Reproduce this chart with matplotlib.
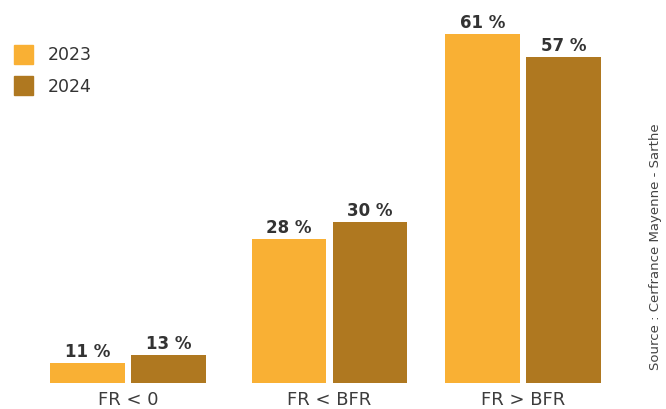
import matplotlib
matplotlib.use("Agg")
import matplotlib.pyplot as plt
import numpy as np
from matplotlib.patches import Rectangle

categories = ["FR < 0", "FR < BFR", "FR > BFR"]
series_names = ["2023", "2024"]
# bar heights (percent units)
heights_2023 = [3.5, 25.2, 61.0]
heights_2024 = [4.9, 28.1, 57.0]
# value labels printed above bars
labels_2023 = ["11 %", "28 %", "61 %"]
labels_2024 = ["13 %", "30 %", "57 %"]
source_text = "Source : Cerfrance Mayenne - Sarthe"

c2023 = "#F9B034"
c2024 = "#AF7820"
text_col = "#333333"

W, H = 666, 410
fig = plt.figure(figsize=(W / 100, H / 100), dpi=100)
fig.patch.set_facecolor("white")

# axes: x 0..640 px, baseline at y=384 px from top
ax = fig.add_axes([0, 26 / H, 640 / W, 384 / H])
px_per_unit = 197.5
x0_px = 128
ax.set_xlim(-x0_px / px_per_unit, (640 - x0_px) / px_per_unit)
ax.set_ylim(0, 384 / 5.72)
ax.axis("off")

x = np.array([0, 1.018, 2.0])
bw = 0.375
off = 0.205
ax.bar(x - off, heights_2023, bw, color=c2023, label=series_names[0])
ax.bar(x + off, heights_2024, bw, color=c2024, label=series_names[1])

pad = 7 / 5.72
for xi, h, t in zip(x - off, heights_2023, labels_2023):
    ax.text(xi, h + pad, t, ha="center", va="baseline", fontsize=12,
            fontweight="bold", color=text_col)
for xi, h, t in zip(x + off, heights_2024, labels_2024):
    ax.text(xi, h + pad, t, ha="center", va="baseline", fontsize=12,
            fontweight="bold", color=text_col)

# category labels
for xi, c in zip(x, categories):
    ax.text(xi, -21.5 / 5.72, c, ha="center", va="baseline", fontsize=13,
            color="#3c3c3c")

# legend (manual squares)
for i, (name, col) in enumerate(zip(series_names, [c2023, c2024])):
    top = 46 + i * 31
    fig.patches.append(Rectangle((14 / W, 1 - (top + 19) / H), 19 / W, 19 / H,
                                 transform=fig.transFigure, color=col))
    fig.text(48 / W, 1 - (top + 9.5) / H, name, ha="left", va="center",
             fontsize=12.5, color=text_col)

# source, rotated
fig.text(655 / W, 1 - 247 / H, source_text, rotation=90, ha="center",
         va="center", fontsize=9.5, color="#444444")

fig.savefig("out.png", dpi=100)
